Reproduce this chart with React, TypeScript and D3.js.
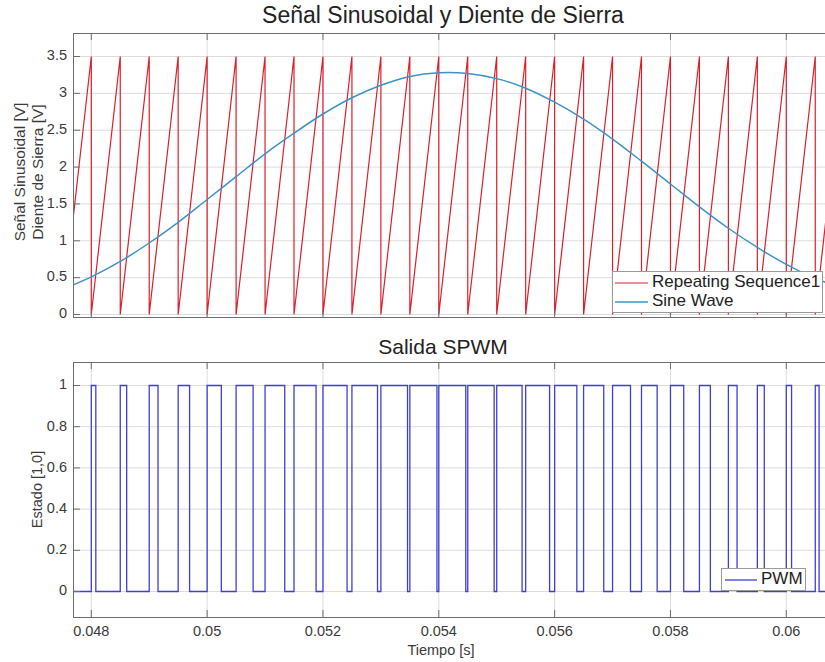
import React from "react";
import * as d3 from "d3";

// ---- data ----
const xTicks = [0.048, 0.05, 0.052, 0.054, 0.056, 0.058, 0.06];
const xTickLabels = ["0.048", "0.05", "0.052", "0.054", "0.056", "0.058", "0.06"];
const topYTicks = [0, 0.5, 1, 1.5, 2, 2.5, 3, 3.5];
const topYTickLabels = ["0", "0.5", "1", "1.5", "2", "2.5", "3", "3.5"];
const botYTicks = [0, 0.2, 0.4, 0.6, 0.8, 1];
const botYTickLabels = ["0", "0.2", "0.4", "0.6", "0.8", "1"];

// sawtooth (Repeating Sequence1): reset instants, ramp 0 -> peak
const sawResets = [
  0.0475, 0.048, 0.0485, 0.049, 0.0495, 0.05, 0.0505, 0.051, 0.0515, 0.052,
  0.0525, 0.053, 0.0535, 0.054, 0.0545, 0.055, 0.0555, 0.056, 0.0565, 0.057,
  0.0575, 0.058, 0.0585, 0.059, 0.0595, 0.06, 0.0605, 0.061,
];
const sawPeak = 3.5;

// sine wave samples
const sineT = [
  0.0475, 0.048, 0.0485, 0.049, 0.0495, 0.05, 0.0505, 0.051, 0.0515, 0.052,
  0.0525, 0.053, 0.0535, 0.054, 0.0545, 0.055, 0.0555, 0.056, 0.0565, 0.057,
  0.0575, 0.058, 0.0585, 0.059, 0.0595, 0.06, 0.0605, 0.061,
];
const sineV = [
  0.34, 0.51, 0.72, 0.97, 1.25, 1.56, 1.87, 2.18, 2.46, 2.72,
  2.94, 3.11, 3.23, 3.28, 3.27, 3.2, 3.07, 2.88, 2.65, 2.38,
  2.08, 1.77, 1.46, 1.17, 0.91, 0.68, 0.49, 0.35,
];

// PWM pulses
const pwmRise = [
  0.048, 0.0485, 0.049, 0.0495, 0.05, 0.0505, 0.051, 0.0515, 0.052, 0.0525,
  0.053, 0.0535, 0.054, 0.0545, 0.055, 0.0555, 0.056, 0.0565, 0.057, 0.0575,
  0.058, 0.0585, 0.059, 0.0595, 0.06, 0.0605,
];
const pwmFall = [
  0.048078, 0.048611, 0.049152, 0.049697, 0.050245, 0.050794, 0.05134, 0.051881, 0.052416, 0.052942,
  0.05346, 0.053968, 0.054466, 0.054956, 0.055438, 0.055913, 0.056383, 0.056848, 0.05731, 0.05777,
  0.058229, 0.058689, 0.05915, 0.05962, 0.060091, 0.060566,
];

const W = 825;
const H = 662;
const FONT = "'Liberation Sans', Arial, Helvetica, sans-serif";
const AX = "#6e6e6e";
const GRID = "#dcdcdc";
const TXT = "#3a3a3a";

const L = 73;
const R = 830;
const top1 = 33, bot1 = 317;
const top2 = 362, bot2 = 617;

const x = d3.scaleLinear().domain([0.048, 0.06]).range([91.3, 786.3]);
const y1 = d3.scaleLinear().domain([0, 3.5]).range([314.5, 56.5]);
const y2 = d3.scaleLinear().domain([0, 1]).range([591.5, 385.5]);

function sawPoints(): [number, number][] {
  const pts: [number, number][] = [];
  for (let i = 0; i < sawResets.length; i++) {
    if (i > 0) pts.push([sawResets[i], sawPeak]);
    pts.push([sawResets[i], 0]);
  }
  return pts;
}

function pwmPoints(): [number, number][] {
  const pts: [number, number][] = [[0.0475, 0]];
  for (let i = 0; i < pwmRise.length; i++) {
    pts.push([pwmRise[i], 0], [pwmRise[i], 1], [pwmFall[i], 1], [pwmFall[i], 0]);
  }
  pts.push([0.061, 0]);
  return pts;
}

function Grid({ top, bot, y, ticks }: any) {
  return (
    <g>
      {xTicks.map((t, i) => (
        <line key={"gx" + i} x1={x(t)} x2={x(t)} y1={top} y2={bot} stroke={GRID} strokeWidth={1} />
      ))}
      {ticks.map((t: number, i: number) => (
        <line key={"gy" + i} x1={L} x2={R} y1={y(t)} y2={y(t)} stroke={GRID} strokeWidth={1} />
      ))}
    </g>
  );
}

function Frame({ top, bot, y, ticks, labels, showX }: any) {
  const tl = 7;
  return (
    <g>
      <line x1={L} x2={R} y1={top + 0.5} y2={top + 0.5} stroke={AX} />
      <line x1={L} x2={R} y1={bot + 0.5} y2={bot + 0.5} stroke={AX} />
      <line x1={L + 0.5} x2={L + 0.5} y1={top} y2={bot + 1} stroke={AX} />
      {xTicks.map((t, i) => (
        <g key={"tx" + i}>
          <line x1={x(t)} x2={x(t)} y1={bot} y2={bot - tl} stroke={AX} />
          <line x1={x(t)} x2={x(t)} y1={top} y2={top + tl} stroke={AX} />
          {showX && (
            <text x={x(t)} y={bot + 15} textAnchor="middle" dominantBaseline="middle"
              fontSize={14.5} fill={TXT} fontFamily={FONT}>{xTickLabels[i]}</text>
          )}
        </g>
      ))}
      {ticks.map((t: number, i: number) => (
        <g key={"ty" + i}>
          <line x1={L} x2={L + tl} y1={y(t)} y2={y(t)} stroke={AX} />
          <text x={L - 6} y={y(t)} textAnchor="end" dominantBaseline="middle"
            fontSize={14.5} fill={TXT} fontFamily={FONT}>{labels[i]}</text>
        </g>
      ))}
    </g>
  );
}

export default function App() {
  const saw = d3.line<[number, number]>().x((d) => x(d[0])).y((d) => y1(d[1]))(sawPoints()) || "";
  const sinePts: [number, number][] = sineT.map((t, i) => [t, sineV[i]]);
  const sine = d3.line<[number, number]>().x((d) => x(d[0])).y((d) => y1(d[1])).curve(d3.curveCatmullRom)(sinePts) || "";
  const pwm = d3.line<[number, number]>().x((d) => x(d[0])).y((d) => y2(d[1]))(pwmPoints()) || "";

  const RED = "#dc1f2b";
  const SINE = "#3d93c4";
  const PWM = "#3f3fd2";

  return (
    <svg width={W} height={H} style={{ position: "absolute", left: 0, top: 0, background: "#fff" }}
      fontFamily={FONT}>
      <defs>
        <clipPath id="c1"><rect x={L} y={top1} width={R - L} height={bot1 - top1} /></clipPath>
        <clipPath id="c2"><rect x={L} y={top2} width={R - L} height={bot2 - top2} /></clipPath>
      </defs>
      <rect x={0} y={0} width={W} height={H} fill="#fff" />

      {/* top plot */}
      <Grid top={top1} bot={bot1} y={y1} ticks={topYTicks} />
      <g clipPath="url(#c1)">
        <path d={saw} fill="none" stroke={RED} strokeWidth={1.2} />
        <path d={sine} fill="none" stroke={SINE} strokeWidth={1.5} />
      </g>
      <Frame top={top1} bot={bot1} y={y1} ticks={topYTicks} labels={topYTickLabels} showX={false} />
      <text x={443} y={17} textAnchor="middle" dominantBaseline="middle" fontSize={23} fill="#222">
        Señal Sinusoidal y Diente de Sierra
      </text>
      <text transform={`translate(21,${(top1 + bot1) / 2 - 3}) rotate(-90)`} textAnchor="middle"
        dominantBaseline="middle" fontSize={15.5} fill={TXT}>Señal Sinusoidal [V]</text>
      <text transform={`translate(39,${(top1 + bot1) / 2 - 3}) rotate(-90)`} textAnchor="middle"
        dominantBaseline="middle" fontSize={15.5} fill={TXT}>Diente de Sierra [V]</text>

      {/* top legend */}
      <g>
        <rect x={612.5} y={271.5} width={210} height={41} fill="#fff" stroke="#9a9a9a" />
        <line x1={615} x2={648} y1={283} y2={283} stroke={RED} strokeWidth={1.2} />
        <text x={652} y={283} dominantBaseline="middle" fontSize={17} fill="#222">Repeating Sequence1</text>
        <line x1={615} x2={648} y1={302} y2={302} stroke={SINE} strokeWidth={1.5} />
        <text x={652} y={302} dominantBaseline="middle" fontSize={17} fill="#222">Sine Wave</text>
      </g>

      {/* bottom plot */}
      <Grid top={top2} bot={bot2} y={y2} ticks={botYTicks} />
      <g clipPath="url(#c2)">
        <path d={pwm} fill="none" stroke={PWM} strokeWidth={1.3} />
      </g>
      <Frame top={top2} bot={bot2} y={y2} ticks={botYTicks} labels={botYTickLabels} showX={true} />
      <text x={443} y={348} textAnchor="middle" dominantBaseline="middle" fontSize={21} fill="#222">
        Salida SPWM
      </text>
      <text transform={`translate(38,${(top2 + bot2) / 2}) rotate(-90)`} textAnchor="middle"
        dominantBaseline="middle" fontSize={14.5} fill={TXT}>Estado [1,0]</text>
      <text x={441} y={651} textAnchor="middle" dominantBaseline="middle" fontSize={14.5} fill={TXT}>
        Tiempo [s]
      </text>

      {/* bottom legend */}
      <g>
        <rect x={721.5} y={568.5} width={84} height={22} fill="#fff" stroke="#9a9a9a" />
        <line x1={725} x2={757} y1={580} y2={580} stroke={PWM} strokeWidth={1.3} />
        <text x={761} y={580} dominantBaseline="middle" fontSize={17} fill="#222">PWM</text>
      </g>
    </svg>
  );
}
